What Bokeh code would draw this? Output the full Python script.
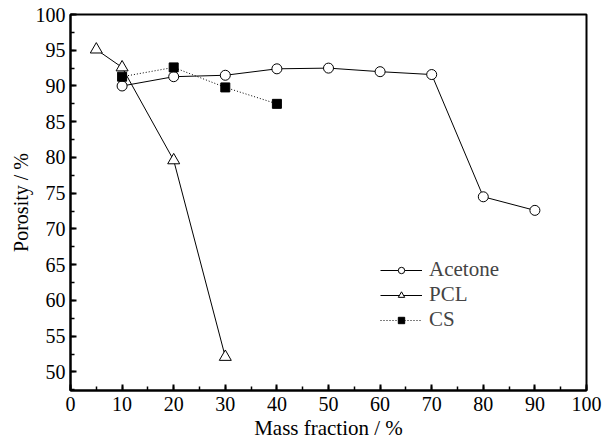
from bokeh.plotting import figure
from bokeh.models import Range1d, FixedTicker, Legend, LegendItem
from bokeh.embed import file_html
from bokeh.resources import INLINE

acetone_x = [10, 20, 30, 40, 50, 60, 70, 80, 90]
acetone_y = [90.0, 91.3, 91.5, 92.4, 92.5, 92.0, 91.6, 74.5, 72.6]
pcl_x = [5, 10, 20, 30]
pcl_y = [95.1, 92.6, 79.6, 52.1]
cs_x = [10, 20, 30, 40]
cs_y = [91.3, 92.6, 89.8, 87.5]

FONT = "Liberation Serif"

p = figure(width=605, height=442, output_backend="svg", toolbar_location=None,
           x_range=Range1d(0, 100), y_range=Range1d(47.4, 100),
           min_border_left=70, min_border_right=19, min_border_top=14, min_border_bottom=52)
p.xgrid.visible = False
p.ygrid.visible = False
p.outline_line_color = "black"
p.outline_line_width = 2
p.background_fill_color = "white"
p.border_fill_color = "white"

for ax in (p.xaxis[0], p.yaxis[0]):
    ax.axis_line_width = 2
    ax.major_tick_in = 6
    ax.major_tick_out = 0
    ax.minor_tick_in = 4
    ax.minor_tick_out = 0
    ax.major_tick_line_width = 2
    ax.minor_tick_line_width = 1.5
    ax.major_label_text_font = FONT
    ax.major_label_text_font_size = "20px"
    ax.major_label_text_color = "black"
    ax.axis_label_text_font = FONT
    ax.axis_label_text_font_style = "normal"
    ax.axis_label_text_color = "black"

p.xaxis.axis_label_text_font_size = "21px"
p.yaxis.axis_label_text_font_size = "20px"
p.xaxis.ticker = FixedTicker(ticks=list(range(0, 101, 10)), minor_ticks=list(range(0, 101, 5)))
p.yaxis.ticker = FixedTicker(ticks=list(range(50, 101, 5)), minor_ticks=[47.5 + 2.5 * i for i in range(22)])
p.xaxis.axis_label = "Mass fraction / %"
p.yaxis.axis_label = "Porosity / %"
p.xaxis.major_label_standoff = 6
p.yaxis.major_label_standoff = 5
p.xaxis.axis_label_standoff = 2
p.yaxis.axis_label_standoff = 1

l1 = p.line(acetone_x, acetone_y, line_color="black", line_width=1)
m1 = p.scatter(acetone_x, acetone_y, marker="circle", size=10, fill_color="white", line_color="black", line_width=1)
l2 = p.line(pcl_x, pcl_y, line_color="black", line_width=1)
m2 = p.scatter(pcl_x, pcl_y, marker="triangle", size=12, fill_color="white", line_color="black", line_width=1)
l3 = p.line(cs_x, cs_y, line_color="black", line_width=1, line_dash="1 2")
m3 = p.scatter(cs_x, cs_y, marker="square", size=9, fill_color="black", line_color="black")

legend = Legend(items=[
    LegendItem(label="Acetone", renderers=[l1, m1]),
    LegendItem(label="PCL", renderers=[l2, m2]),
    LegendItem(label="CS", renderers=[l3, m3]),
], location=(310, 58), border_line_color=None, background_fill_alpha=0,
    label_text_font=FONT, label_text_font_size="21px", glyph_width=42, glyph_height=16,
    spacing=-4, label_standoff=7, label_height=16)
p.add_layout(legend, "center")

open("out.html", "w").write(file_html(p, INLINE))
